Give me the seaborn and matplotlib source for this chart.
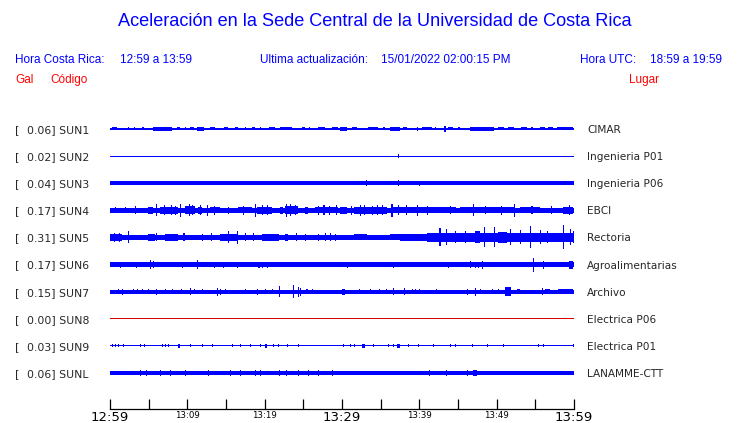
import numpy as np
import pandas as pd
import seaborn as sns
import matplotlib
matplotlib.use("Agg")
import matplotlib.pyplot as plt
from matplotlib.transforms import blended_transform_factory

# station table
stations = ["SUN1", "SUN2", "SUN3", "SUN4", "SUN5", "SUN6", "SUN7", "SUN8", "SUN9", "SUNL"]
peaks = [0.06, 0.02, 0.04, 0.17, 0.31, 0.17, 0.15, 0.00, 0.03, 0.06]
places = ["CIMAR", "Ingenieria P01", "Ingenieria P06", "EBCI", "Rectoria",
          "Agroalimentarias", "Archivo", "Electrica P06", "Electrica P01", "LANAMME-CTT"]
# half amplitude of the quiet signal (relative units)
base_amp = [0.75, 0.5, 2.1, 2.5, 2.7, 2.1, 2.1, 0.5, 0.5, 2.0]

# bursts: (start minute, end minute, half amplitude)
bursts = {
    "SUN1": [(0.2, 0.9, 1.5), (2.3, 2.3, 1.5), (3.1, 3.1, 1.5), (4.2, 4.2, 1.5), (5.6, 8.0, 1.7),
             (8.6, 9.0, 1.5), (9.7, 9.7, 1.5), (10.3, 10.8, 1.5), (11.2, 12.1, 1.7), (12.9, 13.6, 1.5),
             (14.7, 15.3, 1.5), (16.1, 16.6, 1.5), (17.5, 17.5, 1.5), (18.3, 18.8, 1.5), (19.4, 19.4, 1.5),
             (20.5, 21.3, 1.5), (22.0, 23.5, 1.5), (24.8, 25.2, 1.5), (25.7, 25.7, 1.5), (26.9, 27.8, 1.5),
             (28.7, 29.5, 1.5), (29.7, 30.6, 2.3), (31.3, 31.9, 1.5), (33.4, 34.7, 1.5), (35.3, 35.6, 1.5),
             (36.2, 37.5, 1.7), (37.9, 38.4, 1.5), (39.7, 39.7, 2.3), (40.3, 41.6, 1.5), (42.0, 42.0, 1.5),
             (43.2, 43.4, 3), (43.7, 44.4, 1.5), (45.0, 45.3, 1.5), (46.6, 49.6, 1.7), (50.2, 50.9, 1.5),
             (51.5, 52.2, 1.5), (53.2, 53.9, 1.5), (54.5, 54.5, 1.5), (55.6, 56.2, 1.5), (56.7, 57.3, 1.5),
             (57.8, 59.9, 1.5)],
    "SUN2": [(37.2, 37.3, 1.6)],
    "SUN3": [(33.1, 33.1, 2.8), (37.2, 37.2, 2.8), (40.0, 40.0, 2.6)],
    "SUN4": [(0.6, 0.6, 3), (1.9, 1.9, 3), (3.2, 3.2, 4), (4.95, 5.6, 3.3), (6.0, 6.0, 6),
             (6.5, 8.8, 3.6), (7.0, 7.0, 5), (7.9, 7.9, 5), (8.4, 8.4, 4.5), (9.05, 9.05, 6.5),
             (9.7, 11.0, 4.2), (10.2, 10.2, 6), (10.6, 10.6, 5), (11.4, 11.85, 3.5), (11.6, 11.6, 5),
             (12.5, 12.5, 5.5), (12.9, 14.2, 3.2), (13.5, 13.5, 4.5), (15.3, 15.3, 3.5),
             (16.6, 18.3, 3.2), (17.2, 17.2, 4.5), (18.75, 18.75, 6.5), (18.96, 20.9, 3.6),
             (19.6, 19.6, 5), (20.3, 20.3, 5), (22.0, 22.4, 3.3), (22.8, 22.8, 6.5),
             (22.6, 24.3, 3.8), (23.3, 23.3, 6), (23.9, 23.9, 5), (25.2, 25.6, 3.3),
             (26.5, 29.5, 3.0), (26.9, 26.9, 4.5), (27.6, 27.6, 5), (28.3, 28.3, 4.5),
             (29.2, 29.2, 5), (29.74, 30.6, 3.5), (31.1, 31.1, 4.5), (31.5, 35.8, 3.3),
             (32.3, 32.3, 5.5), (32.8, 32.8, 5), (33.9, 33.9, 4.5), (34.5, 34.5, 5), (35.2, 35.2, 5),
             (36.4, 36.4, 6.5), (36.6, 42.7, 3.2), (37.2, 37.2, 5), (38.3, 38.3, 5),
             (39.7, 39.7, 5.5), (41.0, 41.0, 4.5), (42.7, 44.8, 2.9), (44.0, 44.0, 4),
             (45.3, 52.2, 2.8), (46.9, 46.9, 6), (48.5, 48.5, 4), (50.6, 50.6, 4.5),
             (52.2, 52.2, 6.5), (53.0, 55.6, 2.8), (54.5, 54.5, 4), (57.0, 57.0, 4),
             (58.6, 59.9, 3.5), (59.3, 59.3, 5)],
    "SUN5": [(0.0, 1.5, 3.4), (0.5, 0.5, 4.5), (1.2, 1.2, 4.5), (2.37, 2.37, 6), (4.95, 5.8, 3.3),
             (6.0, 6.0, 4), (7.1, 8.8, 3.3), (9.5, 9.5, 4), (11.85, 11.85, 3.5), (13.0, 13.0, 4),
             (14.2, 16.6, 3.6), (15.3, 15.3, 6), (16.4, 16.4, 6.5), (17.5, 17.5, 4), (18.5, 18.5, 4),
             (19.6, 21.8, 3.3), (22.6, 23.05, 3.6), (24.0, 24.0, 4), (25.2, 25.2, 3.5),
             (26.9, 26.9, 3.5), (27.8, 27.8, 4), (28.5, 28.5, 4), (29.1, 29.1, 3.5),
             (31.5, 33.2, 3.1), (36.2, 37.5, 3.1), (37.5, 41.0, 3.6), (41.0, 60.0, 4.2),
             (42.6, 42.6, 9), (43.5, 43.5, 8), (44.6, 44.6, 6), (45.9, 45.9, 6),
             (47.2, 47.9, 6), (48.3, 48.3, 10), (49.7, 49.7, 10), (50.2, 51.3, 5.5),
             (51.7, 51.7, 8), (53.0, 53.0, 7), (54.3, 54.3, 11), (55.6, 55.6, 7),
             (56.5, 56.5, 6), (58.6, 58.6, 12), (59.5, 59.5, 8), (59.9, 59.9, 6)],
    "SUN6": [(1.29, 1.29, 3), (2.37, 2.37, 2.5), (3.3, 3.3, 3), (4.3, 4.3, 2.5), (5.2, 5.2, 4.5),
             (5.6, 5.6, 3.5), (9.3, 9.3, 3), (11.2, 11.2, 4.5), (12.3, 12.3, 2.5), (13.4, 13.4, 3),
             (14.65, 14.65, 3), (16.4, 16.4, 3), (19.2, 19.2, 3), (19.7, 19.7, 3), (20.25, 20.25, 3),
             (20.9, 20.9, 2.5), (29.1, 29.1, 2.5), (30.6, 30.6, 3), (31.9, 31.9, 2.5),
             (33.4, 33.8, 2.5), (36.6, 36.6, 3), (38.1, 38.1, 2.5), (43.75, 43.75, 3),
             (46.55, 46.55, 3.5), (47.2, 47.2, 3), (47.6, 47.6, 3), (48.1, 48.1, 4),
             (49.6, 49.6, 2.5), (50.9, 50.9, 2.5), (54.7, 54.7, 7), (56.0, 56.0, 4),
             (59.3, 59.9, 4)],
    "SUN7": [(1.0, 1.0, 2.5), (1.5, 1.5, 3), (3.0, 3.0, 2.5), (3.45, 3.45, 2.5), (4.1, 4.1, 2.5),
             (4.9, 4.9, 2.5), (5.95, 5.95, 3), (7.1, 7.1, 2.5), (8.0, 8.0, 2.5), (9.2, 9.2, 2.5),
             (10.35, 10.35, 3.5), (10.8, 10.8, 2.5), (11.85, 11.85, 2.5), (13.8, 13.8, 4),
             (14.2, 14.2, 3), (14.9, 14.9, 2.5), (17.45, 17.45, 2.5), (19.0, 19.2, 3),
             (20.0, 20.0, 2.5), (20.9, 20.9, 2.5), (21.8, 22.0, 5.5), (23.7, 23.7, 6.5),
             (24.3, 24.3, 5), (24.6, 24.6, 4), (25.4, 25.4, 2.5), (26.1, 26.1, 2.5),
             (30.0, 30.4, 3), (32.2, 32.2, 2.5), (33.6, 33.6, 2.5), (34.8, 34.8, 2.5),
             (35.7, 35.7, 2.5), (36.55, 36.55, 3.5), (38.0, 38.0, 3.5), (39.0, 39.0, 2.5),
             (39.4, 39.4, 2.5), (40.0, 40.0, 2.5), (42.2, 42.2, 2.5), (46.1, 46.1, 3),
             (47.2, 47.2, 4), (47.8, 47.8, 2.5), (49.35, 49.35, 2.5), (50.2, 50.2, 2.5),
             (51.1, 51.9, 4.5), (52.6, 53.0, 2.7), (55.8, 55.8, 3.5), (56.2, 56.9, 2.3),
             (57.96, 59.9, 2.3)],
    "SUN8": [],
    "SUN9": [(0.21, 0.21, 1.5), (0.64, 0.64, 1.5), (1.07, 1.07, 1.5), (1.72, 1.72, 1.5),
             (3.88, 3.88, 1.5), (4.44, 4.44, 1.5), (6.68, 6.68, 1.5), (7.1, 7.1, 1.5),
             (7.54, 7.54, 1.5), (8.83, 9.05, 1.8), (10.34, 10.34, 1.5), (11.85, 11.85, 1.5),
             (13.14, 13.14, 1.5), (15.73, 15.73, 1.5), (16.8, 16.8, 1.5), (18.1, 18.1, 1.5),
             (19.4, 19.4, 1.5), (20.04, 20.26, 1.8), (21.12, 21.12, 1.5), (21.76, 21.76, 1.5),
             (22.84, 22.84, 1.5), (24.35, 24.35, 1.5), (30.17, 30.17, 1.5), (31.03, 31.03, 1.5),
             (31.55, 31.55, 1.5), (32.54, 32.97, 2.2), (34.05, 34.05, 1.5), (36.0, 36.0, 1.5),
             (36.64, 36.64, 1.5), (37.15, 37.5, 2.2), (38.58, 38.58, 1.5), (39.87, 39.87, 1.5),
             (41.81, 41.81, 1.5), (43.96, 43.96, 1.5), (44.61, 44.61, 1.5), (46.77, 46.77, 1.5),
             (48.7, 48.7, 1.5), (50.86, 50.86, 1.5), (55.39, 55.39, 1.5), (56.03, 56.03, 1.5),
             (59.91, 59.91, 1.5)],
    "SUNL": [(0.0, 3.4, 2.3), (3.9, 3.9, 2.7), (4.7, 4.7, 2.7), (6.5, 6.5, 2.7), (7.75, 7.75, 2.7),
             (9.7, 9.7, 2.7), (12.7, 12.7, 2.7), (13.6, 15.3, 2.3), (15.5, 15.5, 3.2),
             (16.8, 16.8, 2.7), (18.75, 18.75, 2.7), (19.4, 19.4, 2.7), (21.8, 21.8, 3.2),
             (22.8, 22.8, 2.7), (24.35, 24.35, 2.7), (25.6, 25.6, 2.7), (26.9, 26.9, 2.7),
             (28.65, 28.65, 2.7), (36.2, 38.4, 2.3), (41.2, 41.2, 2.7), (43.5, 43.5, 2.7),
             (46.1, 46.1, 2.7), (47.0, 47.4, 2.7), (49.6, 52.6, 2.3), (56.5, 59.9, 2.3)],
}

tick_minutes = list(range(0, 61, 5))
tick_labels = ["12:59", "", "13:09", "", "13:19", "", "13:29", "", "13:39", "", "13:49", "", "13:59"]
big_ticks = ["12:59", "13:29", "13:59"]

title = "Aceleración en la Sede Central de la Universidad de Costa Rica"

sns.set_style("white")
plt.rcParams["font.family"] = ["DejaVu Sans"]

W, H = 740, 423
fig = plt.figure(figsize=(W / 100, H / 100), dpi=100)
# axes box in pixels: x 110..574, y 115..409
ax = fig.add_axes([110 / W, (H - 409) / H, 464 / W, (409 - 115) / H])

lane_px = 27.1
scale = 1 / lane_px
min_w = 0.14

for i, st in enumerate(stations):
    col = "#e00000" if st == "SUN8" else "blue"
    b = base_amp[i] * scale
    ax.bar(0, 2 * b, width=60, bottom=i - b, align="edge", color=col, linewidth=0)
    for t0, t1, a in bursts[st]:
        h = a * scale
        ax.bar(t0, 2 * h, width=max(t1 - t0, min_w), bottom=i - h, align="edge",
               color=col, linewidth=0)

ax.set_xlim(0, 60)
ax.set_ylim((409 - 129) / lane_px, (115 - 129) / lane_px)
ax.set_yticks([])
ax.set_xticks(tick_minutes)
ax.set_xticklabels(tick_labels)
for lab in ax.get_xticklabels():
    lab.set_fontsize(9.5 if lab.get_text() in big_ticks else 6.2)
ax.tick_params(axis="x", bottom=True, direction="in", length=7.2, width=0.9, pad=1.5,
               colors="black")
for side in ["top", "left", "right"]:
    ax.spines[side].set_visible(False)
ax.spines["bottom"].set_color("black")
ax.spines["bottom"].set_linewidth(0.9)
ax.patch.set_alpha(0)

tr = blended_transform_factory(fig.transFigure, ax.transData)
for i, st in enumerate(stations):
    ax.text(15 / W, i, "[", transform=tr, fontsize=8, va="center_baseline", ha="left")
    ax.text(27 / W, i, f"{peaks[i]:.2f}] {st}", transform=tr, fontsize=7.8,
            va="center_baseline", ha="left")
    ax.text(587 / W, i, places[i], transform=tr, fontsize=7.6,
            va="center_baseline", ha="left")


def px_text(x, y, s, size=8.5, color="blue", ha="left"):
    fig.text(x / W, 1 - y / H, s, fontsize=size, color=color, ha=ha,
             va="center", family="Liberation Sans")


px_text(375, 22, title, size=13.1, ha="center")
px_text(15, 60, "Hora Costa Rica:")
px_text(120, 60, "12:59 a 13:59")
px_text(260, 60, "Ultima actualización:")
px_text(381, 60, "15/01/2022 02:00:15 PM")
px_text(580, 60, "Hora UTC:")
px_text(650, 60, "18:59 a 19:59")
px_text(15, 80, "Gal", color="red")
px_text(50, 80, "Código", color="red")
px_text(629, 80, "Lugar", color="red")

fig.savefig("out.png", dpi=100, facecolor="white")
